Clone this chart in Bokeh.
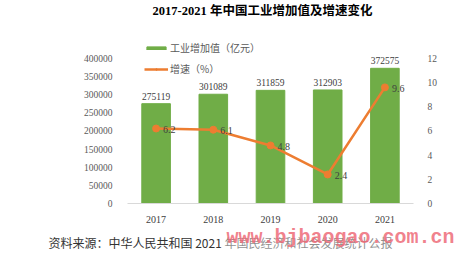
from bokeh.plotting import figure
from bokeh.layouts import column
from bokeh.models import (Range1d, LinearAxis, FixedTicker, Label, Legend, LegendItem,
                          ColumnDataSource, NumeralTickFormatter, BoxAnnotation)
from bokeh.embed import file_html
from bokeh.resources import INLINE

years = ["2017", "2018", "2019", "2020", "2021"]
value_added = [275119, 301089, 311859, 312903, 372575]
growth = [6.2, 6.1, 4.8, 2.4, 9.6]
left_ticks = [0, 50000, 100000, 150000, 200000, 250000, 300000, 350000, 400000]
right_ticks = [0, 2, 4, 6, 8, 10, 12]
title_text = "2017-2021 年中国工业增加值及增速变化"
bar_name = "工业增加值（亿元）"
line_name = "增速（%）"
source_text = "资料来源：中华人民共和国 2021 年国民经济和社会发展统计公报"
watermark = "www.bjbaogao.com.cn"

GREEN = "#70AD47"
ORANGE = "#ED7D31"
SERIF = "Liberation Serif, Noto Sans CJK SC"
CJK = "Noto Sans CJK SC"

W = 473
H_MAIN = 225
H_FOOT = 260 - H_MAIN
FL, FR, FB = 127, 413, 207       # frame left/right/bottom on canvas
DATA_TOP = 59                     # canvas y of 400000 / 12
scale = FB / (FB - DATA_TOP)      # frame starts at canvas top

p = figure(width=W, height=H_MAIN, x_range=years,
           y_range=Range1d(0, left_ticks[-1] * scale),
           output_backend="svg", toolbar_location=None,
           min_border_left=FL, min_border_right=W - FR,
           min_border_top=0, min_border_bottom=H_MAIN - FB)
p.frame_align = False
p.outline_line_color = None
p.xgrid.grid_line_color = None
p.ygrid.grid_line_color = None
p.border_fill_color = "white"
p.extra_y_ranges = {"g": Range1d(0, right_ticks[-1] * scale)}

src = ColumnDataSource(dict(x=years, v=value_added, g=growth,
                            vl=[str(v) for v in value_added],
                            gl=[str(g) for g in growth]))

bars = p.vbar(x="x", top="v", width=0.5, source=src, color=GREEN)
line = p.line(x="x", y="g", source=src, y_range_name="g", color=ORANGE, line_width=2.5)
pts = p.scatter(x="x", y="g", source=src, y_range_name="g", color=ORANGE, size=7, marker="circle")

p.text(x="x", y="v", text="vl", source=src, text_align="center", text_baseline="bottom",
       y_offset=-4, text_font_size="9.5px", text_color="#404040", text_font="Liberation Serif")
p.text(x="x", y="g", text="gl", source=src, y_range_name="g", text_align="left",
       text_baseline="middle", x_offset=7, y_offset=1, text_font_size="10px",
       text_color="#404040", text_font="Liberation Serif")

ya = p.yaxis[0]
ya.ticker = FixedTicker(ticks=left_ticks)
ya.formatter = NumeralTickFormatter(format="0")
ya.axis_line_color = None
ya.major_tick_line_color = None
ya.minor_tick_line_color = None
ya.major_label_text_font = "Liberation Serif"
ya.major_label_text_font_size = "9.5px"
ya.major_label_text_color = "#595959"
ya.major_label_standoff = 9

ra = LinearAxis(y_range_name="g", ticker=FixedTicker(ticks=right_ticks))
ra.axis_line_color = None
ra.major_tick_line_color = None
ra.minor_tick_line_color = None
ra.major_label_text_font = "Liberation Serif"
ra.major_label_text_font_size = "9.5px"
ra.major_label_text_color = "#595959"
ra.major_label_standoff = 8
p.add_layout(ra, "right")

xa = p.xaxis[0]
xa.axis_line_color = "#D9D9D9"
xa.major_tick_line_color = None
xa.minor_tick_line_color = None
xa.major_label_text_font = "Liberation Serif"
xa.major_label_text_font_size = "10px"
xa.major_label_text_color = "#404040"
xa.major_label_standoff = 6

legend = Legend(items=[LegendItem(label=bar_name, renderers=[bars]),
                       LegendItem(label=line_name, renderers=[line, pts])],
                location=(17, 127), orientation="vertical",
                glyph_width=24, glyph_height=4, label_standoff=2,
                label_text_font=CJK, label_text_font_size="10px",
                label_text_color="#595959", spacing=6, padding=0, margin=0,
                label_height=13, background_fill_alpha=0, border_line_color=None)
p.add_layout(legend, "center")

p.add_layout(Label(x=262 - FL, y=FB - 14, x_units="screen", y_units="screen",
                   text=title_text, text_baseline="middle", text_align="center",
                   text_font=SERIF, text_font_style="bold", text_font_size="12.5px",
                   text_color="#000000"))

# footer: data coords equal canvas pixel coords
f = figure(width=W, height=H_FOOT, x_range=Range1d(0, W), y_range=Range1d(260, H_MAIN),
           output_backend="svg", toolbar_location=None,
           min_border_left=0, min_border_right=0, min_border_top=0, min_border_bottom=0)
f.frame_align = False
f.axis.visible = False
f.grid.visible = False
f.outline_line_color = None
f.border_fill_color = "white"
f.add_layout(Label(x=48, y=242, text=source_text, text_baseline="middle", text_align="left",
                   text_font=CJK, text_font_size="12px", text_color="#333333"))
f.add_layout(BoxAnnotation(left=220, right=W, bottom=258, top=H_MAIN,
                           fill_color="white", fill_alpha=0.45, line_color=None))
f.add_layout(Label(x=226, y=237, text=watermark, text_baseline="middle", text_align="left",
                   text_font="Liberation Mono", text_font_style="bold",
                   text_font_size="20px", text_color="#EE6B78", text_alpha=0.85))

layout = column(p, f, spacing=0)
open("out.html", "w").write(file_html(layout, INLINE))
